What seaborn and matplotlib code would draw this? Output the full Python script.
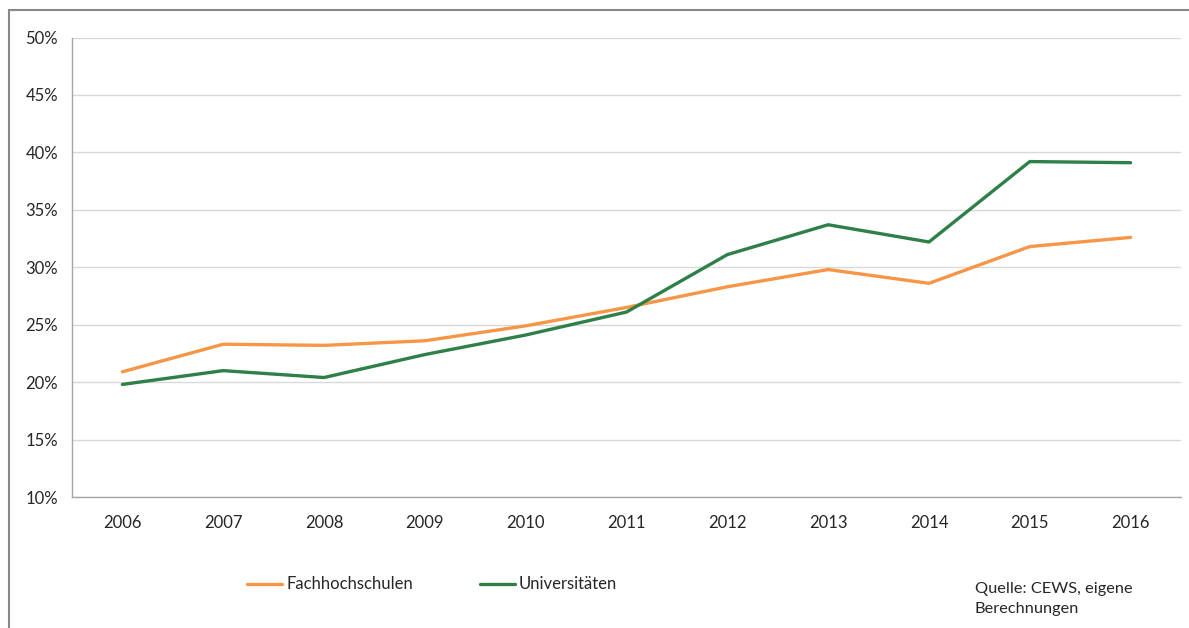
import numpy as np
import pandas as pd
import matplotlib
matplotlib.use("Agg")
import matplotlib.pyplot as plt
import seaborn as sns
from matplotlib.patches import Rectangle
from matplotlib.ticker import FixedLocator, FuncFormatter

years = ["2006", "2007", "2008", "2009", "2010", "2011",
         "2012", "2013", "2014", "2015", "2016"]
fachhochschulen = [20.9, 23.3, 23.2, 23.6, 24.9, 26.5, 28.3, 29.8, 28.6, 31.8, 32.6]
universitaeten = [19.8, 21.0, 20.4, 22.4, 24.1, 26.1, 31.1, 33.7, 32.2, 39.2, 39.1]
y_ticks = [10, 15, 20, 25, 30, 35, 40, 45, 50]

df = pd.DataFrame({
    "pos": list(range(len(years))) * 2,
    "value": fachhochschulen + universitaeten,
    "series": ["Fachhochschulen"] * len(years) + ["Universitäten"] * len(years),
})

sns.set_style("white")
plt.rcParams["font.family"] = ["Lato", "DejaVu Sans"]

fig = plt.figure(figsize=(11.89, 6.28), dpi=100)
ax = fig.add_axes([72 / 1189, 1 - 497 / 628, (1181 - 72) / 1189, (497 - 37.5) / 628])

palette = {"Fachhochschulen": "#F79646", "Universitäten": "#2E7F48"}
sns.lineplot(data=df, x="pos", y="value", hue="series", palette=palette,
             linewidth=2.4, ax=ax, legend=False)

ax.set_xlim(-0.5, len(years) - 0.5)
ax.set_ylim(10, 50)
ax.yaxis.set_major_locator(FixedLocator(y_ticks))
ax.yaxis.set_major_formatter(FuncFormatter(lambda v, _: f"{v:.0f}%"))
ax.grid(axis="y", color="#D9D9D9", linewidth=1)
ax.set_axisbelow(True)

ax.set_xticks(range(len(years)))
ax.set_xticklabels(years)
ax.set_xticks(np.arange(-0.5, len(years), 1), minor=True)
ax.tick_params(axis="x", which="major", length=0, pad=13, labelsize=12, colors="#262626")
ax.tick_params(axis="x", which="minor", length=6, width=1, color="#A6A6A6")
ax.tick_params(axis="y", length=6, width=1, color="#A6A6A6", labelsize=12,
               labelcolor="#262626", pad=4)

for side in ["top", "right"]:
    ax.spines[side].set_visible(False)
for side in ["left", "bottom"]:
    ax.spines[side].set_color("#A6A6A6")
    ax.spines[side].set_linewidth(1)
ax.set_xlabel("")
ax.set_ylabel("")

# legend below the plot
for x0, label, key in [(247, "Fachhochschulen", "Fachhochschulen"),
                       (480, "Universitäten", "Universitäten")]:
    fig.add_artist(plt.Line2D([x0 / 1189, (x0 + 35) / 1189], [1 - 584 / 628] * 2,
                              color=palette[key], linewidth=2.4))
    fig.text((x0 + 39) / 1189, 1 - 584 / 628, label, fontsize=12,
             color="#262626", va="center", ha="left")

fig.text(975 / 1189, 1 - 599 / 628, "Quelle: CEWS, eigene\nBerechnungen",
         fontsize=11.8, color="#262626", va="center", ha="left", linespacing=1.55)

# outer frame (only top and left edges visible)
fig.add_artist(Rectangle((9 / 1189, -0.1), 1.2, 1 - 10.5 / 628 + 0.1,
                         transform=fig.transFigure, fill=False,
                         edgecolor="#888888", linewidth=1.5))

fig.savefig("out.png", dpi=100)
